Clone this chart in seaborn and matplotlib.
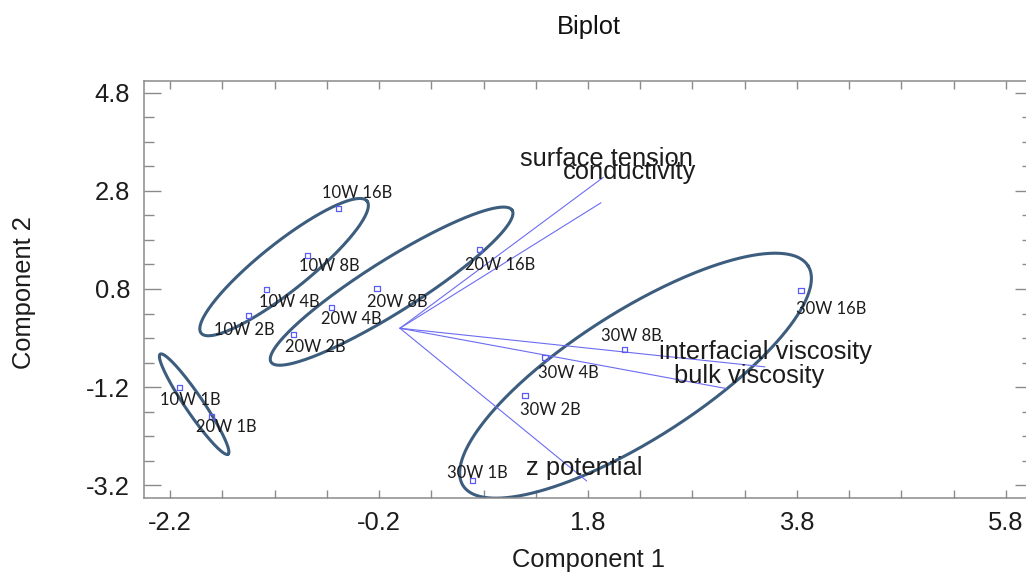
import numpy as np
import pandas as pd
import matplotlib
matplotlib.use("Agg")
import matplotlib.pyplot as plt
import seaborn as sns
from matplotlib.ticker import FixedLocator

# Observation scores on the first two principal components
sample_labels = ["10W 1B", "10W 2B", "10W 4B", "10W 8B", "10W 16B",
                 "20W 1B", "20W 2B", "20W 4B", "20W 8B", "20W 16B",
                 "30W 1B", "30W 2B", "30W 4B", "30W 8B", "30W 16B"]
comp1 = [-2.114, -1.447, -1.278, -0.886, -0.586,
         -1.801, -1.020, -0.653, -0.219, 0.760,
         0.693, 1.197, 1.389, 2.147, 3.838]
comp2 = [-1.201, 0.261, 0.783, 1.476, 2.435,
         -1.793, -0.127, 0.424, 0.818, 1.607,
         -3.098, -1.379, -0.596, -0.432, 0.777]

# Variable loadings (arrow tips, arrows start at the origin)
variables = ["surface tension", "conductivity", "interfacial viscosity",
             "bulk viscosity", "z potential"]
load1 = [1.946, 1.924, 3.494, 3.121, 1.787]
load2 = [3.075, 2.557, -0.787, -1.228, -3.112]

# Group ellipses: centre and two conjugate semi-axes, in data units
ell_cx = [-1.109, -0.080, -1.970, 2.255]
ell_cy = [1.246, 0.858, -1.548, -0.967]
ell_ux = [0.794, 1.154, 0.325, 1.651]
ell_uy = [1.346, 1.548, -1.020, 2.241]
ell_vx = [-0.143, -0.133, 0.0712, -0.329]
ell_vy = [0.383, 0.449, 0.103, 1.101]

# Axis ticks
x_major = [-2.2, -0.2, 1.8, 3.8, 5.8]
y_major = [-3.2, -1.2, 0.8, 2.8, 4.8]

# Label placement (offset in pixels from the mark)
sample_offsets = [(11, -13), (-4, -15), (23, -12), (22, -10), (18, 16),
                  (15, -11), (22, -13), (20, -12), (20, -14), (21, -16),
                  (5, 7), (25, -14), (23, -16), (7, 13), (30, -19)]
variable_offsets = [(3, 18), (29, 31), (0, 15), (23, 12), (-2, 13)]

sns.set_style("ticks")
plt.rcParams["font.family"] = ["Liberation Sans", "DejaVu Sans"]
plt.rcParams["axes.unicode_minus"] = False

W, H = 1026, 573
fig = plt.figure(figsize=(W / 100, H / 100), dpi=100)
ax_l, ax_r, ax_t, ax_b = 144, 1032, 80.5, 497.5
ax = fig.add_axes([ax_l / W, (H - ax_b) / H, (ax_r - ax_l) / W, (ax_b - ax_t) / H])

ell_color = "#3d5d7e"
vec_color = "#6c6cf2"
pt_color = "#5b5bf5"
txt_color = "#1c1c1c"

# Group ellipses
t = np.linspace(0, 2 * np.pi, 400)
for cx, cy, ux, uy, vx, vy in zip(ell_cx, ell_cy, ell_ux, ell_uy, ell_vx, ell_vy):
    ex = cx + ux * np.cos(t) + vx * np.sin(t)
    ey = cy + uy * np.cos(t) + vy * np.sin(t)
    ax.plot(ex, ey, color=ell_color, lw=2.2, solid_capstyle="round", zorder=2)

# Loading vectors
for lx, ly in zip(load1, load2):
    ax.plot([0, lx], [0, ly], color=vec_color, lw=0.8, zorder=3)

# Observation points
scores = pd.DataFrame({"Component 1": comp1, "Component 2": comp2, "label": sample_labels})
sns.scatterplot(data=scores, x="Component 1", y="Component 2", ax=ax,
                marker="s", s=14, facecolor="none", edgecolor=pt_color,
                linewidth=0.9, zorder=4)

for lab, x, y, off in zip(sample_labels, comp1, comp2, sample_offsets):
    ax.annotate(lab, (x, y), xytext=off, textcoords="offset pixels",
                ha="center", va="center", fontsize=11.9, family=["Lato", "DejaVu Sans"],
                color=txt_color, zorder=5)

for name, x, y, off in zip(variables, load1, load2, variable_offsets):
    ax.annotate(name, (x, y), xytext=off, textcoords="offset pixels",
                ha="center", va="center", fontsize=18.4, color=txt_color, zorder=5)

ax.set_xlim(-2.45, 6.05)
ax.set_ylim(-3.45, 5.05)
ax.xaxis.set_major_locator(FixedLocator(x_major))
ax.yaxis.set_major_locator(FixedLocator(y_major))
ax.xaxis.set_minor_locator(FixedLocator(np.arange(-2.2, 6.1, 0.5)))
ax.yaxis.set_minor_locator(FixedLocator(np.arange(-3.2, 5.1, 0.5)))
ax.set_xticklabels([f"{v:.1f}" for v in x_major])
ax.set_yticklabels([f"{v:.1f}" for v in y_major])

spine_color = "#8a8a8a"
for s in ax.spines.values():
    s.set_visible(True)
    s.set_color(spine_color)
    s.set_linewidth(1.1)

ax.tick_params(axis="x", which="both", direction="in", top=True, bottom=True,
               length=5.8, width=1.0, color=spine_color)
ax.tick_params(axis="x", which="major", labelsize=18.4, labelcolor=txt_color, pad=10)
ax.tick_params(axis="y", which="major", direction="in", left=True, right=True,
               length=12.2, width=1.0, color=spine_color,
               labelsize=18.4, labelcolor=txt_color, pad=10)
ax.tick_params(axis="y", which="minor", direction="in", left=True, right=True,
               length=7.2, width=1.0, color=spine_color)

ax.set_xlabel("Component 1", fontsize=18.4, color=txt_color, va="center")
ax.set_ylabel("Component 2", fontsize=18.4, color=txt_color, va="center")
ax.xaxis.set_label_coords((588 - ax_l) / (ax_r - ax_l), -(560 - ax_b) / (ax_b - ax_t))
ax.yaxis.set_label_coords((24 - ax_l) / (ax_r - ax_l), (ax_b - 293) / (ax_b - ax_t))
ax.set_title("Biplot", fontsize=18.4, color="#111111", va="center", pad=0,
             x=(589 - ax_l) / (ax_r - ax_l), y=(ax_b - 27) / (ax_b - ax_t))

fig.savefig("out.png", dpi=100)
